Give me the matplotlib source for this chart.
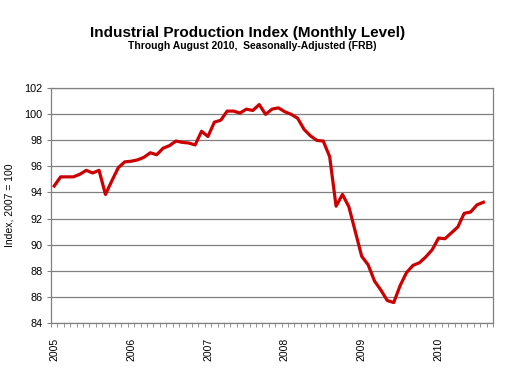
import numpy as np
import matplotlib
matplotlib.use('Agg')
import matplotlib.pyplot as plt

plt.rcParams['font.family'] = ['Liberation Sans', 'DejaVu Sans']

# Monthly industrial production index, Jan 2005 .. Aug 2010 (2007 = 100)
ip_index = [
    94.5, 95.2, 95.2, 95.2, 95.4, 95.7, 95.5, 95.7, 93.85, 94.9, 95.9, 96.35,   # 2005
    96.4, 96.5, 96.7, 97.05, 96.9, 97.4, 97.6, 97.95, 97.85, 97.8, 97.65, 98.7,  # 2006
    98.3, 99.4, 99.55, 100.25, 100.25, 100.1, 100.4, 100.3, 100.75, 100.0, 100.4, 100.5,  # 2007
    100.2, 100.0, 99.7, 98.85, 98.35, 98.0, 97.95, 96.75, 92.95, 93.85, 92.9, 91.0,  # 2008
    89.1, 88.45, 87.2, 86.5, 85.7, 85.55, 86.85, 87.85, 88.4, 88.6, 89.05, 89.6,  # 2009
    90.5, 90.45, 90.9, 91.35, 92.4, 92.5, 93.05, 93.25,  # 2010
]
year_labels = ['2005', '2006', '2007', '2008', '2009', '2010']
n_categories = 69  # Excel category axis leaves one empty slot at the end

fig = plt.figure(figsize=(5.08, 3.81), dpi=100)
ax = fig.add_axes([0.1004, 0.153, 0.8701, 0.6152])

x = np.arange(len(ip_index))
ax.plot(x, ip_index, color='#CC0000', linewidth=2.3, solid_joinstyle='round')

# Axes
ax.set_xlim(-0.5, n_categories - 0.5)
ax.set_ylim(84, 102)
ax.set_yticks(np.arange(84, 103, 2))
ax.set_yticklabels([str(v) for v in range(84, 103, 2)], fontsize=7.8)
ax.yaxis.grid(True, color='#808080', linewidth=0.9)
ax.set_axisbelow(True)

ax.set_xticks(np.arange(0, 12 * len(year_labels), 12))
ax.set_xticklabels(year_labels, rotation=90, fontsize=7.5)
ax.set_xticks(np.arange(-0.5, n_categories, 1), minor=True)
ax.tick_params(axis='x', which='major', length=0, pad=11)
ax.tick_params(axis='x', which='minor', length=3, width=0.6, color='#808080', direction='out')
ax.tick_params(axis='y', length=3, width=0.8, color='#808080', pad=3)

for side in ['left', 'right', 'top', 'bottom']:
    ax.spines[side].set_color('#808080')
    ax.spines[side].set_linewidth(0.9)

ax.set_ylabel('Index, 2007 = 100', fontsize=7.5, labelpad=7)

fig.text(0.488, 0.904, 'Industrial Production Index (Monthly Level)',
         ha='center', va='baseline', fontsize=11, fontweight='bold')
fig.text(0.496, 0.872, 'Through August 2010,  Seasonally-Adjusted (FRB)',
         ha='center', va='baseline', fontsize=7.5, fontweight='bold')

fig.savefig('out.png', dpi=100, facecolor='white')
plt.close(fig)
